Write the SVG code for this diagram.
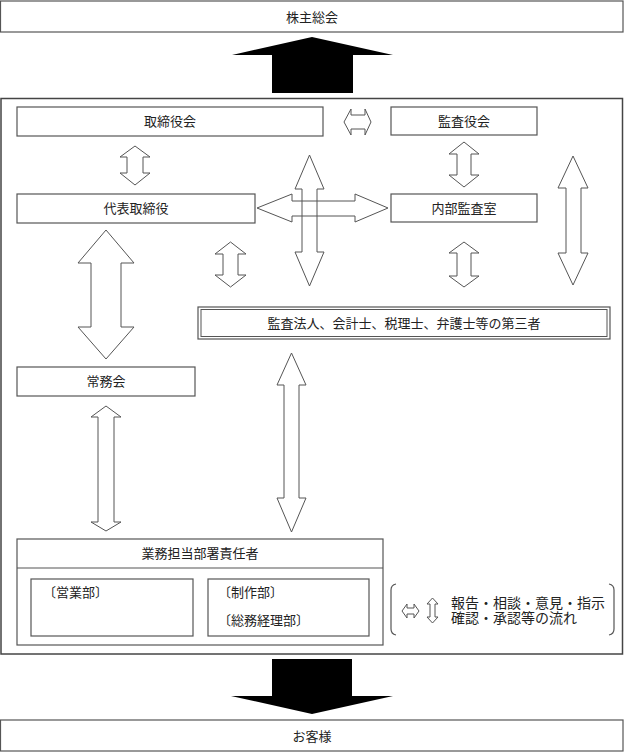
<svg xmlns="http://www.w3.org/2000/svg" width="624" height="752" viewBox="0 0 624 752">
<style>
.box{fill:#fff;stroke:#555;stroke-width:1.2}
.frame{fill:none;stroke:#444;stroke-width:1.5}
.t{font-family:"Liberation Serif","Noto Sans CJK JP",serif;font-size:13px;fill:#222;text-anchor:middle;dominant-baseline:central}
.tl{font-family:"Liberation Serif","Noto Sans CJK JP",serif;font-size:13px;fill:#222;dominant-baseline:central}
.lg{font-family:"Liberation Serif","Noto Sans CJK JP",serif;font-size:14px;fill:#222;dominant-baseline:central}
.da{fill:#fff;stroke:#555;stroke-width:1}
.dn{fill:none;stroke:#555;stroke-width:1}
.blk{fill:#000;stroke:none}
</style>
<rect width="624" height="752" fill="#fff"/>
<rect id="main-frame" class="frame" x="1" y="98.5" width="621.5" height="555.5"/>
<g id="kabunushi"><rect class="box" x="0.5" y="1" width="622.5" height="31"/><text class="t" x="312" y="17">株主総会</text></g>
<g id="torishimariyakukai"><rect class="box" x="17" y="107" width="306" height="29"/><text class="t" x="170" y="121">取締役会</text></g>
<g id="kansayakukai"><rect class="box" x="391" y="107" width="146" height="28"/><text class="t" x="464" y="121">監査役会</text></g>
<g id="daihyo"><rect class="box" x="17" y="194" width="238" height="29"/><text class="t" x="136" y="208">代表取締役</text></g>
<g id="naibu"><rect class="box" x="391" y="194" width="146" height="28"/><text class="t" x="464" y="208">内部監査室</text></g>
<g id="daisansha"><rect class="box" x="198" y="307" width="412" height="32"/><rect fill="none" stroke="#555" stroke-width="1" x="201" y="309.5" width="406" height="27"/><text class="t" x="404" y="323">監査法人、会計士、税理士、弁護士等の第三者</text></g>
<g id="jomukai"><rect class="box" x="17" y="367" width="178" height="29"/><text class="t" x="106" y="381">常務会</text></g>
<g id="gyomu"><rect class="box" x="17" y="539" width="366" height="106"/><line x1="17" y1="568" x2="383" y2="568" stroke="#555" stroke-width="1.2"/><text class="t" x="200" y="553">業務担当部署責任者</text>
<rect class="box" x="31" y="579" width="162" height="57"/><text class="tl" x="43" y="592">〔営業部〕</text>
<rect class="box" x="208" y="579" width="161" height="57"/><text class="tl" x="218" y="592">〔制作部〕</text><text class="tl" x="218" y="620">〔総務経理部〕</text></g>
<g id="okyakusama"><rect class="box" x="0.5" y="720" width="622.5" height="31"/><text class="t" x="312" y="736">お客様</text></g>
<g id="connectors">
<polygon class="blk" points="312,37 393,55 353,55 353,93 272,93 272,55 232,55"/>
<polygon class="blk" points="272,659 352,659 352,696 393,696 312,714 231,696 272,696"/>
<polygon class="da" points="344,122 351,109 351,115 365,115 365,109 371,122 365,135 365,129 351,129 351,135"/>
<polygon class="da" points="135,146 150,157 143,157 143,173 150,173 135,185 120,173 127,173 127,157 120,157"/>
<polygon class="da" points="464,142 479,154 471,154 471,175 479,175 464,187 449,175 457,175 457,154 449,154"/>
<polygon class="da" points="573,156 588,188 581,188 581,253 588,253 573,285 558,253 566,253 566,188 558,188"/>
<polygon class="dn" points="309.5,155 324,189 317,189 317,252 324,252 309.5,286 295,252 302,252 302,189 295,189"/>
<polygon class="dn" points="257,208 292,194 292,201 355,201 355,194 388,208 355,222 355,216 292,216 292,222"/>
<polygon class="da" points="106,230 134,263 121,263 121,327 134,327 106,359 78,327 91,327 91,263 78,263"/>
<polygon class="da" points="230.5,242 246,254 238,254 238,275 246,275 230.5,287 215,275 223,275 223,254 215,254"/>
<polygon class="da" points="464,242 479,253 471,253 471,276 479,276 464,287 449,276 457,276 457,253 449,253"/>
<polygon class="da" points="291.5,353 306,385 299,385 299,498 306,498 291.5,532 277,498 284,498 284,385 277,385"/>
<polygon class="da" points="106,406 121,417 114,417 114,522 121,522 106,531 91,522 98,522 98,417 91,417"/>
</g>
<g id="legend">
<path d="M396,584 Q391,585 391,590 L391,629 Q391,634 396,635" fill="none" stroke="#555" stroke-width="1.2"/>
<path d="M609,584 Q614,585 614,590 L614,629 Q614,634 609,635" fill="none" stroke="#555" stroke-width="1.2"/>
<polygon class="da" points="402,611 407,604 407,608 414,608 414,604 419,611 414,618 414,614 407,614 407,618"/>
<polygon class="da" points="432.5,598 438,604 435,604 435,617 438,617 432.5,623 427,617 430,617 430,604 427,604"/>
<text class="lg" x="451" y="603">報告・相談・意見・指示</text>
<text class="lg" x="451" y="618">確認・承認等の流れ</text>
</g>
</svg>
